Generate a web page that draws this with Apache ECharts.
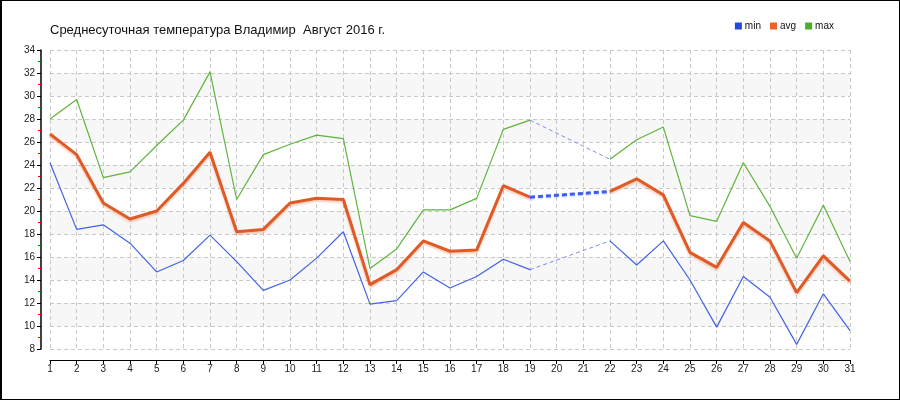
<!DOCTYPE html>
<html>
<head>
<meta charset="utf-8">
<script src="https://cdn.jsdelivr.net/npm/echarts@6/dist/echarts.min.js"></script>
<style>
html,body{margin:0;padding:0;background:#fff;}
#wrap{position:relative;width:900px;height:400px;}
#chart{position:absolute;left:0;top:0;width:900px;height:400px;}
#frame{position:absolute;left:0;top:0;width:900px;height:400px;box-sizing:border-box;border:1px solid #000;border-left-width:2px;pointer-events:none;}
</style>
</head>
<body>
<div id="wrap"><div id="chart"></div><div id="frame"></div></div>
<script>
var titleText = 'Среднесуточная температура Владимир  Август 2016 г.';
var days = ['1','2','3','4','5','6','7','8','9','10','11','12','13','14','15','16','17','18','19','20','21','22','23','24','25','26','27','28','29','30','31'];
var minT = [24.2,18.4,18.8,17.2,14.7,15.7,17.9,15.6,13.1,14.0,15.9,18.2,11.9,12.2,14.7,13.3,14.3,15.8,14.9,null,null,17.4,15.3,17.4,14.0,9.9,14.3,12.5,8.4,12.8,9.6];
var avgT = [26.7,24.9,20.7,19.3,20.0,22.4,25.1,18.2,18.4,20.7,21.1,21.0,13.6,14.9,17.4,16.5,16.6,22.2,21.2,null,null,21.7,22.8,21.4,16.4,15.1,19.0,17.4,12.9,16.1,13.9];
var maxT = [28.0,29.7,22.9,23.4,25.7,27.9,32.1,21.0,24.9,25.8,26.6,26.3,15.0,16.7,20.1,20.1,21.1,27.1,27.9,null,null,24.5,26.2,27.3,19.6,19.1,24.2,20.4,15.9,20.5,15.6];
var seriesNames = ['min','avg','max'];

function bridge(arr){
  return arr.map(function(v,i){
    if(v==null) return null;
    var prevGap = i>0 && arr[i-1]==null;
    var nextGap = i<arr.length-1 && arr[i+1]==null;
    return (prevGap||nextGap) ? v : null;
  });
}

var font = 'Liberation Sans, Arial, sans-serif';
var chart = echarts.init(document.getElementById('chart'), null, {renderer:'canvas'});
chart.setOption({
  animation:false,
  backgroundColor:'#fff',
  title:{text:titleText,left:45,top:19,textStyle:{fontFamily:font,fontSize:13,fontWeight:'normal',color:'#111'}},
  legend:{
    data:[
      {name:seriesNames[0],itemStyle:{color:'#2448e0'}},
      {name:seriesNames[1],itemStyle:{color:'#e8642c'}},
      {name:seriesNames[2],itemStyle:{color:'#4caf2a'}}
    ],
    icon:'rect',itemWidth:7,itemHeight:7,itemGap:9,right:61,top:16,
    textStyle:{fontFamily:font,fontSize:10,color:'#111',padding:[0,0,0,-2]}
  },
  grid:{left:50,right:50,top:50,bottom:51,containLabel:false},
  xAxis:{
    type:'category',data:days,boundaryGap:false,offset:11,
    axisLine:{lineStyle:{color:'#000',width:1}},
    axisTick:{show:true,length:4,alignWithLabel:true,lineStyle:{color:'#000'}},
    axisLabel:{fontFamily:font,fontSize:10,color:'#222',margin:4,interval:0},
    splitLine:{show:true,lineStyle:{color:'#c8c8c8',type:[4,3],width:1}}
  },
  yAxis:{
    type:'value',min:8,max:34,interval:2,offset:9,
    axisLine:{show:true,lineStyle:{color:'#000',width:1.5}},
    axisTick:{show:true,length:4,lineStyle:{color:'#000'}},
    minorTick:{show:true,splitNumber:2,length:3,lineStyle:{color:'#e00000'}},
    axisLabel:{fontFamily:font,fontSize:10,color:'#222',margin:6},
    splitLine:{show:true,lineStyle:{color:'#c8c8c8',type:[4,3],width:1}},
    splitArea:{show:true,areaStyle:{color:['#ffffff','#f7f7f7']}}
  },
  series:[
    {name:'minGap',type:'line',data:bridge(minT),connectNulls:true,symbol:'none',silent:true,
      lineStyle:{color:'#7a8ef0',width:1,type:[4,3]},z:1},
    {name:'maxGap',type:'line',data:bridge(maxT),connectNulls:true,symbol:'none',silent:true,
      lineStyle:{color:'#7a8ef0',width:1,type:[4,3]},z:1},
    {name:'min',type:'line',data:minT,symbol:'none',connectNulls:false,
      itemStyle:{color:'#2448e0'},lineStyle:{color:'#4262e4',width:1.2},z:2},
    {name:'max',type:'line',data:maxT,symbol:'none',connectNulls:false,
      itemStyle:{color:'#4caf2a'},lineStyle:{color:'#5fb43c',width:1.2},z:2},
    {name:'avg',type:'line',data:avgT,symbol:'none',connectNulls:false,
      itemStyle:{color:'#e8642c'},
      lineStyle:{color:'#e05a26',width:3,shadowColor:'rgba(235,120,70,0.35)',shadowBlur:2,shadowOffsetY:2},z:3},
    {name:'avgGap',type:'line',data:bridge(avgT),connectNulls:true,symbol:'none',silent:true,
      lineStyle:{color:'#3f5cea',width:3,type:[5,3],shadowColor:'rgba(80,100,235,0.3)',shadowBlur:2,shadowOffsetY:1},z:3}
  ]
});
</script>
</body>
</html>
